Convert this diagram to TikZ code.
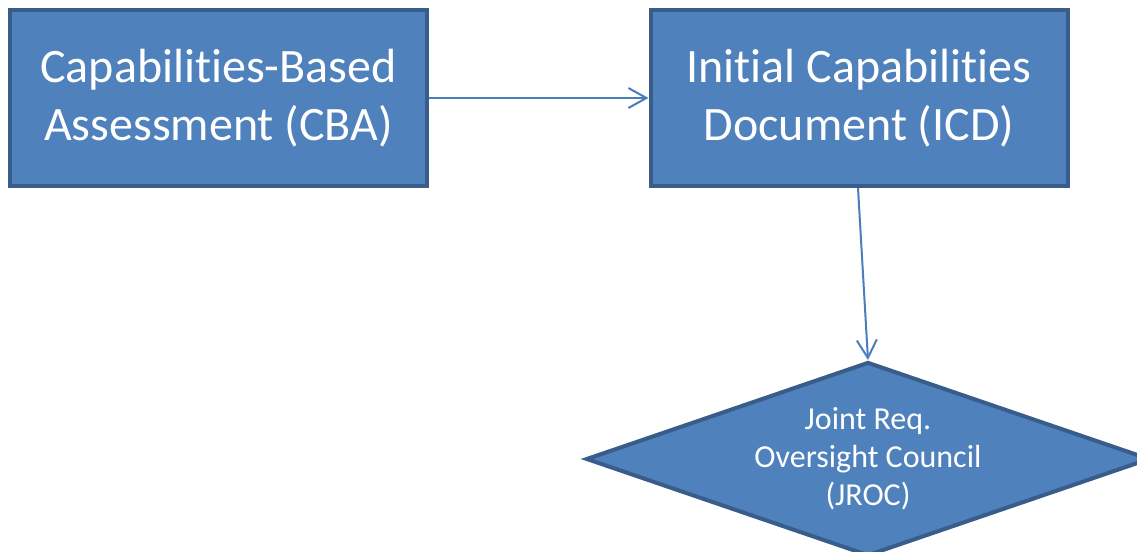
\documentclass[tikz,border=0pt]{standalone}
\usepackage{fontspec}
\setmainfont{Carlito}[Ligatures=NoCommon]
\usetikzlibrary{shapes.geometric,arrows.meta}
\definecolor{boxfill}{HTML}{4F81BD}
\definecolor{boxline}{HTML}{385D8A}
\definecolor{arrowc}{HTML}{4A7EBB}
\tikzset{
  procbox/.style={draw=boxline, fill=boxfill, line width=2pt, minimum width=208.5pt, minimum height=88pt, inner sep=0pt, text=white, align=center, font=\fontsize{24}{29}\selectfont},
  decbox/.style={diamond, draw=boxline, fill=boxfill, line width=2pt, minimum width=282pt, minimum height=97pt, inner sep=0pt},
  conn/.style={draw=arrowc, line width=1pt, -{Straight Barb[length=9pt,width=10pt,line width=1pt]}}
}
\begin{document}
\begin{tikzpicture}[x=0.5pt,y=-0.5pt]
\useasboundingbox (0,0) rectangle (1137,552);
\node[procbox] (cba) at (218.5,98) {Capabilities-Based\\Assessment (CBA)};
\node[procbox] (icd) at (859,98) {Initial Capabilities\\Document (ICD)};
\node[decbox, label={[text=white, align=center, font=\fontsize{16}{19}\selectfont]center:Joint Req.\\Oversight Council\\(JROC)}] (jroc) at (868,459) {};
\draw[conn] (cba.east) -- (icd.west);
\draw[conn] ([xshift=-0.5pt]icd.south) -- (jroc.north);
\end{tikzpicture}
\end{document}
